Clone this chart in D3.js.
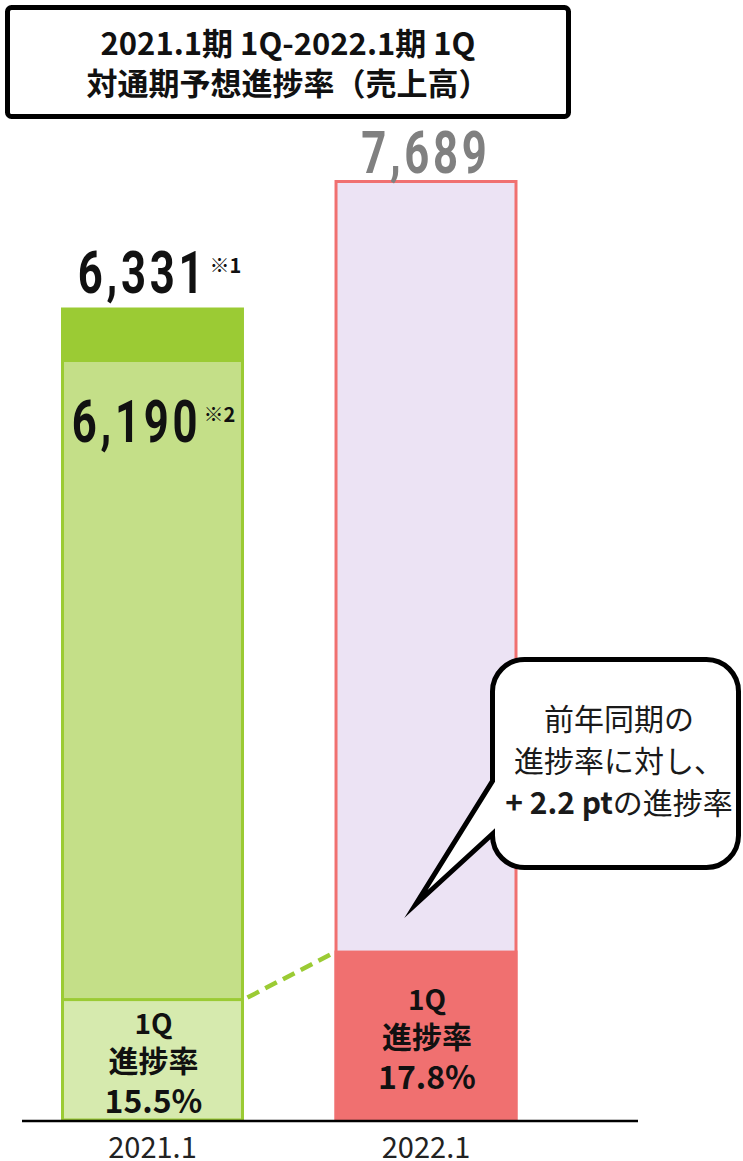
<!DOCTYPE html>
<html>
<head>
<meta charset="utf-8">
<script src="https://cdn.jsdelivr.net/npm/d3@7"></script>
<style>
  html, body { margin: 0; padding: 0; background: #fff; }
  svg { display: block; }
</style>
</head>
<body>
<svg id="chart" width="743" height="1161"></svg>
<script>
// ---- data ----
const categories = ["2021.1", "2022.1"];
const forecastValues = [6331, 7689];          // 通期予想（売上高）
const forecastNotes = ["※1", ""];
const revisedValues = [6190, null];           // 修正後予想
const revisedNotes = ["※2", ""];
const q1Rates = [15.5, 17.8];                 // 1Q 進捗率 (%)
const titleLines = ["2021.1期 1Q-2022.1期 1Q", "対通期予想進捗率（売上高）"];
const segmentLabel = ["1Q", "進捗率"];
const calloutLines = ["前年同期の", "進捗率に対し、"];
const calloutDelta = "+ 2.2 pt";
const calloutTail = "の進捗率";

// ---- layout ----
const W = 743, H = 1161;
const baseY = 1120;
const svg = d3.select("#chart").attr("viewBox", [0, 0, W, H]);

const CJK = "'Noto Sans CJK JP', 'Noto Sans', sans-serif";
const NUM = "Roboto, 'Liberation Sans', sans-serif";

const green = "#9BCB34", greenLight = "#C4DF88", greenPale = "#D6EAAE";
const red = "#F07070", lavender = "#ECE3F4";

const x = d3.scaleBand()
  .domain(categories)
  .range([62.5, 516])
  .paddingInner(0.342)
  .paddingOuter(0);
const bw = x.bandwidth();

// piecewise scale: the gap between the two 2021.1 forecasts is stretched for emphasis
const y = d3.scaleLinear()
  .domain([0, revisedValues[0], forecastValues[0], forecastValues[1]])
  .range([baseY, 360.5, 309, 181.5]);

const q1Values = q1Rates.map((r, i) => forecastValues[i] * r / 100);

// ---- title box ----
svg.append("rect")
  .attr("x", 7.5).attr("y", 7.5).attr("width", 561).attr("height", 109)
  .attr("rx", 4)
  .attr("fill", "#fff").attr("stroke", "#000").attr("stroke-width", 5);

svg.selectAll("text.title")
  .data(titleLines)
  .join("text")
  .attr("class", "title")
  .attr("x", 288)
  .attr("y", (d, i) => 55 + i * 40)
  .attr("text-anchor", "middle")
  .attr("font-family", CJK)
  .attr("font-weight", 700)
  .attr("font-size", 31)
  .attr("fill", "#111")
  .text(d => d);

// ---- bars ----
const bars = svg.append("g");

// 2021.1: initial forecast (dark cap), revised forecast, 1Q actual
const c0 = categories[0];
bars.append("rect")
  .attr("x", x(c0)).attr("y", y(forecastValues[0]))
  .attr("width", bw).attr("height", baseY - y(forecastValues[0]))
  .attr("fill", green).attr("stroke", green).attr("stroke-width", 3);
bars.append("rect")
  .attr("x", x(c0)).attr("y", y(revisedValues[0]))
  .attr("width", bw).attr("height", baseY - y(revisedValues[0]))
  .attr("fill", greenLight).attr("stroke", green).attr("stroke-width", 3);
bars.append("rect")
  .attr("x", x(c0)).attr("y", y(q1Values[0]))
  .attr("width", bw).attr("height", baseY - y(q1Values[0]))
  .attr("fill", greenPale).attr("stroke", green).attr("stroke-width", 3);

// 2022.1: forecast and 1Q actual
const c1 = categories[1];
bars.append("rect")
  .attr("x", x(c1)).attr("y", y(forecastValues[1]))
  .attr("width", bw).attr("height", baseY - y(forecastValues[1]))
  .attr("fill", lavender).attr("stroke", red).attr("stroke-width", 3);
bars.append("rect")
  .attr("x", x(c1)).attr("y", y(q1Values[1]))
  .attr("width", bw).attr("height", baseY - y(q1Values[1]))
  .attr("fill", red).attr("stroke", red).attr("stroke-width", 3);

// dashed connector between the two 1Q tops
svg.append("line")
  .attr("x1", x(c0) + bw + 5).attr("y1", y(q1Values[0]) - 2)
  .attr("x2", x(c1) - 1).attr("y2", y(q1Values[1]))
  .attr("stroke", green).attr("stroke-width", 4.5)
  .attr("stroke-dasharray", "13 7");

// ---- 1Q labels inside segments ----
const fmtRate = d => d3.format(".1f")(d) + "%";
categories.forEach((c, i) => {
  const top = y(q1Values[i]);
  const mid = (top + baseY) / 2;
  const cx = x(c) + bw / 2 + 1;
  const g = svg.append("g")
    .attr("font-family", CJK).attr("font-weight", 700)
    .attr("fill", "#111").attr("text-anchor", "middle");
  g.append("text").attr("x", cx).attr("y", mid - 26).attr("font-size", 28).text(segmentLabel[0]);
  g.append("text").attr("x", cx).attr("y", mid + 12).attr("font-size", 30).text(segmentLabel[1]);
  g.append("text").attr("x", cx).attr("y", mid + 53).attr("font-size", 32).text(fmtRate(q1Rates[i]));
});

// ---- big condensed value labels ----
const fmtNum = d3.format(",");
function valueLabel(value, note, cx, baseline, color) {
  const g = svg.append("g").attr("transform", `translate(${cx},${baseline})`);
  const sx = 0.74, ls = 5;
  const t = g.append("text")
    .attr("transform", `scale(${sx},1)`)
    .attr("font-family", NUM).attr("font-weight", 700)
    .attr("font-size", 59)
    .attr("letter-spacing", ls)
    .attr("fill", color)
    .text(fmtNum(value));
  const w = (t.node().getComputedTextLength() - ls) * sx;
  let total = w;
  if (note) {
    const n = g.append("text")
      .attr("x", w + 6).attr("y", -20)
      .attr("font-family", CJK).attr("font-weight", 700)
      .attr("font-size", 20).attr("fill", "#111")
      .text(note);
    total = w + 6 + n.node().getComputedTextLength();
  }
  g.attr("transform", `translate(${cx - total / 2},${baseline})`);
}
valueLabel(forecastValues[0], forecastNotes[0], x(c0) + bw / 2 + 7, y(forecastValues[0]) - 16, "#111");
valueLabel(revisedValues[0], revisedNotes[0], x(c0) + bw / 2 + 1, y(revisedValues[0]) + 81, "#111");
valueLabel(forecastValues[1], forecastNotes[1], x(c1) + bw / 2 - 2, y(forecastValues[1]) - 9, "#808080");

// ---- axis ----
svg.append("line")
  .attr("x1", 22).attr("x2", 638)
  .attr("y1", baseY + 1).attr("y2", baseY + 1)
  .attr("stroke", "#000").attr("stroke-width", 2.5);

const axis = svg.append("g")
  .attr("transform", `translate(0,${baseY})`)
  .call(d3.axisBottom(x).tickSize(0));
axis.select(".domain").remove();
axis.selectAll("text")
  .attr("y", 38).attr("dy", null)
  .attr("font-family", CJK)
  .attr("font-size", 29)
  .attr("fill", "#222");

// ---- callout bubble ----
const L = 492.5, T = 659.5, R = 738.5, B = 867.5, r = 32;
const tip = [416, 904];
const p = d3.path();
p.moveTo(L + r, T);
p.lineTo(R - r, T);
p.arcTo(R, T, R, T + r, r);
p.lineTo(R, B - r);
p.arcTo(R, B, R - r, B, r);
p.lineTo(L + r, B);
p.arcTo(L, B, L, B - r, r);
p.lineTo(L, 834);
p.lineTo(tip[0], tip[1]);
p.lineTo(L, 781);
p.lineTo(L, T + r);
p.arcTo(L, T, L + r, T, r);
p.closePath();

svg.append("path")
  .attr("d", p.toString())
  .attr("fill", "#fff")
  .attr("stroke", "#000")
  .attr("stroke-width", 5)
  .attr("stroke-linejoin", "miter")
  .attr("stroke-miterlimit", 12);

const bubbleCx = 619;
const bt = svg.append("g")
  .attr("font-family", CJK).attr("font-size", 30)
  .attr("fill", "#1a1a1a").attr("text-anchor", "middle");
calloutLines.forEach((s, i) => {
  bt.append("text").attr("x", bubbleCx).attr("y", 730 + i * 42).text(s);
});
const last = bt.append("text").attr("x", bubbleCx).attr("y", 814);
last.append("tspan").attr("font-weight", 700).text(calloutDelta);
last.append("tspan").text(calloutTail);
</script>
</body>
</html>
